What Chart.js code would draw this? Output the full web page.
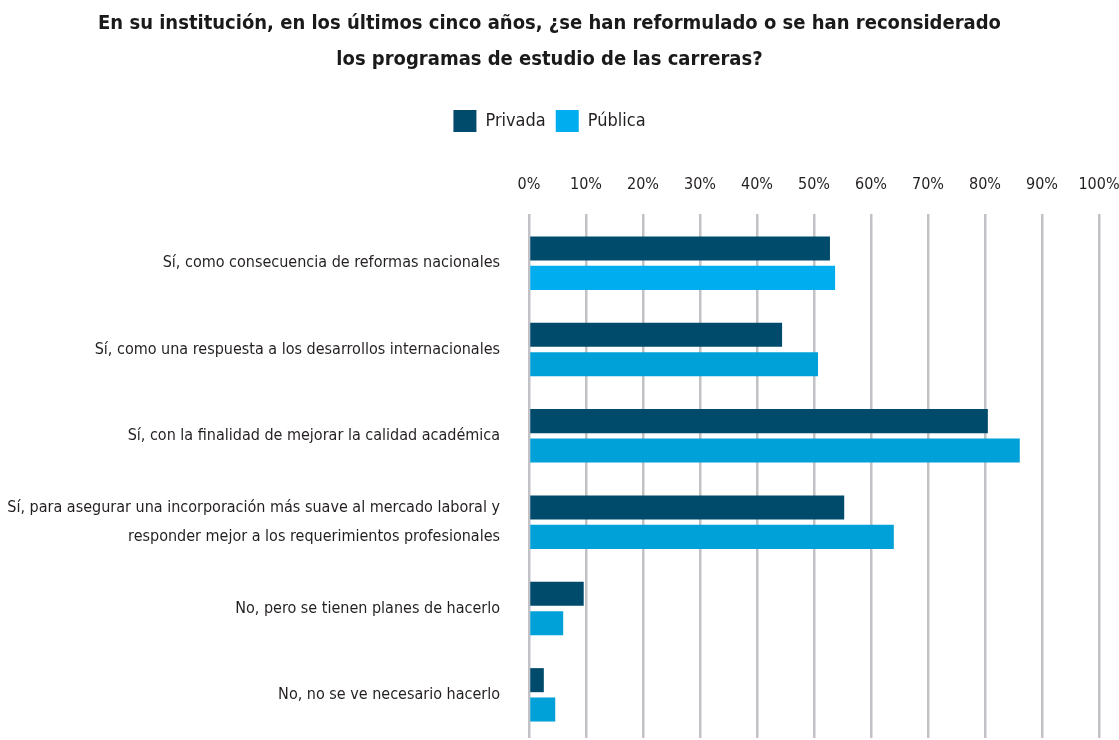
<!DOCTYPE html>
<html>
<head>
<meta charset="utf-8">
<script src="https://cdn.jsdelivr.net/npm/chart.js@4"></script>
<style>
  html, body { margin: 0; padding: 0; background: #fff; }
  #wrap { width: 1119px; height: 740px; }
</style>
</head>
<body>
<div id="wrap"><canvas id="myChart"></canvas></div>
<script>
const categories = [
  "Sí, como consecuencia de reformas nacionales",
  "Sí, como una respuesta a los desarrollos internacionales",
  "Sí, con la finalidad de mejorar la calidad académica",
  ["Sí, para asegurar una incorporación más suave al mercado laboral y", "responder mejor a los requerimientos profesionales"],
  "No, pero se tienen planes de hacerlo",
  "No, no se ve necesario hacerlo"
];
const privada = [52.8, 44.4, 80.5, 55.3, 9.6, 2.6];
const publica = [53.7, 50.7, 86.1, 64.0, 6.0, 4.6];
const tickValues = [0, 10, 20, 30, 40, 50, 60, 70, 80, 90, 100];

Chart.defaults.font.family = "'DejaVu Sans Condensed', 'Liberation Sans Narrow', sans-serif";
Chart.defaults.color = "#231f20";

const ctx = document.getElementById("myChart");

new Chart(ctx, {
  type: "bar",
  data: {
    labels: categories,
    datasets: [
      {
        label: "Privada",
        data: privada,
        backgroundColor: "#004a6c",
        categoryPercentage: 0.68,
        barPercentage: 0.82
      },
      {
        label: "Pública",
        data: publica,
        backgroundColor: ["#00aeef", "#00a0d9", "#00a0d9", "#00a0d9", "#00a0d9", "#00a0d9"],
        categoryPercentage: 0.68,
        barPercentage: 0.82
      }
    ]
  },
  options: {
    indexAxis: "y",
    responsive: true,
    maintainAspectRatio: false,
    animation: false,
    layout: { padding: { top: 6, right: 20, bottom: 2, left: 0 } },
    plugins: {
      title: {
        display: true,
        text: [
          "En su institución, en los últimos cinco años, ¿se han reformulado o se han reconsiderado",
          "los programas de estudio de las carreras?"
        ],
        font: { size: 20, weight: "bold", lineHeight: 1.8 },
        color: "#1a1a1a",
        padding: { top: 0, bottom: 22 }
      },
      legend: {
        position: "top",
        labels: {
          boxWidth: 23,
          boxHeight: 22,
          padding: 10,
          font: { size: 18 },
          color: "#231f20"
        }
      },
      tooltip: { enabled: false }
    },
    scales: {
      x: {
        position: "top",
        min: 0,
        max: 100,
        afterBuildTicks: function (axis) {
          axis.ticks = tickValues.map(function (v) { return { value: v }; });
        },
        afterFit: function (axis) {
          axis.height = 78;
          axis.paddingLeft = 0;
          axis.paddingRight = 0;
        },
        ticks: {
          callback: function (v) { return v + "%"; },
          font: { size: 16 },
          padding: 20,
          color: "#231f20"
        },
        grid: {
          color: "#c2c2c6",
          lineWidth: 2.5,
          tickLength: 6
        },
        border: { display: false }
      },
      y: {
        afterFit: function (axis) {
          axis.width = 529;
          axis.paddingTop = 0;
          axis.paddingBottom = 0;
        },
        ticks: {
          font: { size: 16, lineHeight: 1.85 },
          padding: 21,
          color: "#231f20"
        },
        grid: { display: false },
        border: { display: false }
      }
    }
  }
});
</script>
</body>
</html>
